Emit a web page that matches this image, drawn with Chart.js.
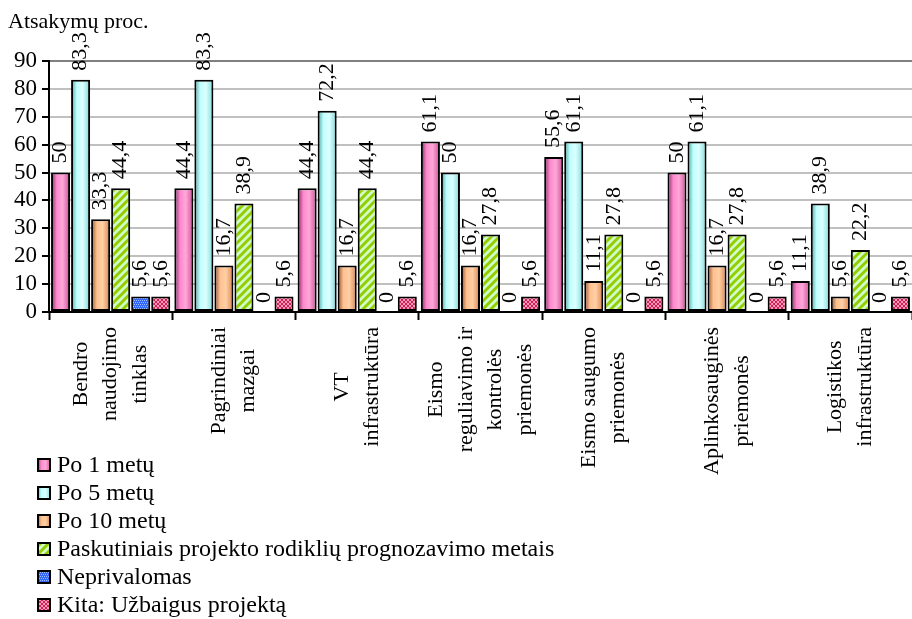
<!DOCTYPE html>
<html>
<head>
<meta charset="utf-8">
<script src="https://cdn.jsdelivr.net/npm/chart.js@4.4.1/dist/chart.umd.min.js"></script>
<style>
  html, body { margin: 0; padding: 0; background: #fff; }
  #wrap { width: 912px; height: 619px; }
</style>
</head>
<body>
<div id="wrap"><canvas id="chart" width="912" height="619"></canvas></div>
<script>
// Data
const categories = [
  ['Bendro', 'naudojimo', 'tinklas'],
  ['Pagrindiniai', 'mazgai'],
  ['VT', 'infrastruktūra'],
  ['Eismo', 'reguliavimo ir', 'kontrolės', 'priemonės'],
  ['Eismo saugumo', 'priemonės'],
  ['Aplinkosauginės', 'priemonės'],
  ['Logistikos', 'infrastruktūra']
];
const seriesNames = [
  'Po 1 metų',
  'Po 5 metų',
  'Po 10 metų',
  'Paskutiniais projekto rodiklių prognozavimo metais',
  'Neprivalomas',
  'Kita: Užbaigus projektą'
];
const po1 = [50, 44.4, 44.4, 61.1, 55.6, 50, 11.1];
const po5 = [83.3, 83.3, 72.2, 50, 61.1, 61.1, 38.9];
const po10 = [33.3, 16.7, 16.7, 16.7, 11.1, 16.7, 5.6];
const paskutiniais = [44.4, 38.9, 44.4, 27.8, 27.8, 27.8, 22.2];
const neprivalomas = [5.6, 0, 0, 0, 0, 0, 0];
const kita = [5.6, 5.6, 5.6, 5.6, 5.6, 5.6, 5.6];
const yTicks = [0, 10, 20, 30, 40, 50, 60, 70, 80, 90];

const FONT = '"Liberation Serif", "Times New Roman", serif';
const CAT_PCT = 0.975;
const BAR_PCT = 0.95;
const N_SETS = 6;

// pattern tiles
function makePattern(kind) {
  const c = document.createElement('canvas');
  const x = c.getContext('2d');
  if (kind === 'stripes') {
    c.width = 8; c.height = 8;
    x.fillStyle = '#CCFFCC';
    x.fillRect(0, 0, 8, 8);
    x.strokeStyle = '#99CC00';
    x.lineWidth = 3;
    x.beginPath();
    x.moveTo(-1, 9); x.lineTo(9, -1);
    x.moveTo(-1, 1); x.lineTo(1, -1);
    x.moveTo(7, 9); x.lineTo(9, 7);
    x.stroke();
  } else if (kind === 'dots') {
    c.width = 4; c.height = 4;
    x.fillStyle = '#3366FF';
    x.fillRect(0, 0, 4, 4);
    x.fillStyle = '#99BBFF';
    [[0, 0], [2, 0], [1, 2], [3, 2]].forEach(p => x.fillRect(p[0], p[1], 1, 1));
  } else {
    c.width = 4; c.height = 4;
    x.fillStyle = '#CC2255';
    x.fillRect(0, 0, 4, 4);
    x.fillStyle = '#FF99BB';
    [[0, 0], [1, 1], [2, 2], [3, 3], [3, 0], [2, 1], [1, 2], [0, 3]].forEach(p => x.fillRect(p[0], p[1], 1, 1));
  }
  return x.createPattern(c, 'repeat');
}

const pinkStops = [[0, '#7A2A66'], [0.3, '#FF88CC'], [0.6, '#FFA8D8'], [0.85, '#E070B0'], [1, '#8A3070']];
const cyanStops = [[0, '#4AA0A0'], [0.3, '#BFFFFF'], [0.6, '#DDFFFF'], [0.85, '#A0E8E8'], [1, '#4FA8A8']];
const orangeStops = [[0, '#904E28'], [0.3, '#FFC090'], [0.6, '#FFD0A4'], [0.85, '#E8A070'], [1, '#9A5830']];

function gradientFill(ctx, stops, x0, x1) {
  const g = ctx.createLinearGradient(x0, 0, x1, 0);
  stops.forEach(s => g.addColorStop(s[0], s[1]));
  return g;
}

// bar-shaped gradient, computed from the category scale
function barGradient(stops) {
  return function(c) {
    const chart = c.chart;
    const xs = chart.scales.x;
    if (!xs || c.type !== 'data') return stops[1][1];
    const cw = xs.width / categories.length;
    const size = cw * CAT_PCT;
    const chunk = size / N_SETS;
    const w = chunk * BAR_PCT;
    const center = xs.getPixelForValue(c.dataIndex) - size / 2 + chunk * c.datasetIndex + chunk / 2;
    if (!isFinite(center) || !isFinite(w) || w <= 0) return stops[1][1];
    return gradientFill(chart.ctx, stops, center - w / 2, center + w / 2);
  };
}

const stripePattern = makePattern('stripes');
const dotPattern = makePattern('dots');
const hatchPattern = makePattern('hatch');

const fills = [
  { stops: pinkStops },
  { stops: cyanStops },
  { stops: orangeStops },
  { pattern: stripePattern },
  { pattern: dotPattern },
  { pattern: hatchPattern }
];
const values = [po1, po5, po10, paskutiniais, neprivalomas, kita];

const datasets = values.map((v, i) => ({
  label: seriesNames[i],
  data: v,
  backgroundColor: fills[i].stops ? barGradient(fills[i].stops) : fills[i].pattern,
  borderColor: '#000',
  borderWidth: 2,
  borderSkipped: false,
  categoryPercentage: CAT_PCT,
  barPercentage: BAR_PCT
}));

function fmt(v) {
  return String(v).replace('.', ',');
}

// title, rotated value labels, category labels and the legend
const decorPlugin = {
  id: 'decor',
  afterDatasetsDraw(chart) {
    const ctx = chart.ctx;
    ctx.save();
    ctx.fillStyle = '#000';
    ctx.font = '22px ' + FONT;
    ctx.textAlign = 'left';
    ctx.textBaseline = 'middle';
    chart.data.datasets.forEach((ds, di) => {
      const meta = chart.getDatasetMeta(di);
      meta.data.forEach((el, i) => {
        ctx.save();
        ctx.translate(el.x, el.y - 9);
        ctx.rotate(-Math.PI / 2);
        ctx.fillText(fmt(ds.data[i]), 0, 0);
        ctx.restore();
      });
    });
    ctx.restore();
  },
  afterDraw(chart) {
    const ctx = chart.ctx;
    const xs = chart.scales.x;
    ctx.save();
    ctx.fillStyle = '#000';

    // axis caption
    ctx.font = '22px ' + FONT;
    ctx.textAlign = 'left';
    ctx.textBaseline = 'alphabetic';
    ctx.fillText('Atsakymų proc.', 8, 28);

    // category labels, rotated
    ctx.font = '22px ' + FONT;
    ctx.textAlign = 'center';
    ctx.textBaseline = 'middle';
    categories.forEach((lines, i) => {
      const cx = xs.getPixelForValue(i);
      const maxW = Math.max(...lines.map(l => ctx.measureText(l).width));
      const cy = 327 + maxW / 2;
      lines.forEach((line, k) => {
        ctx.save();
        ctx.translate(cx + (k - (lines.length - 1) / 2) * 29.5, cy);
        ctx.rotate(-Math.PI / 2);
        ctx.fillText(line, 0, 0);
        ctx.restore();
      });
    });

    // legend
    ctx.font = '24px ' + FONT;
    ctx.textAlign = 'left';
    ctx.textBaseline = 'middle';
    chart.data.datasets.forEach((ds, i) => {
      const y = 465 + i * 28;
      const bx = 37, by = y - 7, bs = 14;
      ctx.fillStyle = fills[i].stops ? gradientFill(ctx, fills[i].stops, bx, bx + bs) : fills[i].pattern;
      ctx.fillRect(bx, by, bs, bs);
      ctx.lineWidth = 2;
      ctx.strokeStyle = '#000';
      ctx.strokeRect(bx + 1, by + 1, bs - 2, bs - 2);
      ctx.fillStyle = '#000';
      ctx.fillText(ds.label, 57, y + 1);
    });
    ctx.restore();
  }
};

new Chart(document.getElementById('chart'), {
  type: 'bar',
  data: {
    labels: categories.map(l => l.join(' ')),
    datasets: datasets
  },
  options: {
    responsive: false,
    devicePixelRatio: 1,
    animation: false,
    events: [],
    layout: { padding: { top: 61, left: 0, right: 0, bottom: 0 } },
    plugins: {
      legend: { display: false },
      tooltip: { enabled: false },
      title: { display: false }
    },
    scales: {
      x: {
        offset: true,
        ticks: { display: false },
        grid: {
          display: true,
          offset: true,
          drawOnChartArea: false,
          drawTicks: true,
          tickLength: 8,
          tickColor: '#000',
          tickWidth: 2
        },
        border: { display: true, color: '#000', width: 2 },
        afterFit(scale) { scale.height = 307; }
      },
      y: {
        min: 0,
        max: 90,
        afterBuildTicks(scale) {
          scale.ticks = yTicks.map(v => ({ value: v }));
        },
        ticks: {
          color: '#000',
          padding: 5,
          autoSkip: false,
          font: { family: FONT, size: 23 }
        },
        grid: {
          color: c => (c.tick && c.tick.value === 90 ? '#808080' : (c.tick && c.tick.value === 0 ? '#000' : '#C0C0C0')),
          lineWidth: 2,
          drawTicks: true,
          tickLength: 7,
          tickColor: '#000',
          tickWidth: 2
        },
        border: { display: true, color: '#000', width: 2 },
        afterFit(scale) { scale.width = 49; }
      }
    }
  },
  plugins: [decorPlugin]
});
</script>
</body>
</html>
